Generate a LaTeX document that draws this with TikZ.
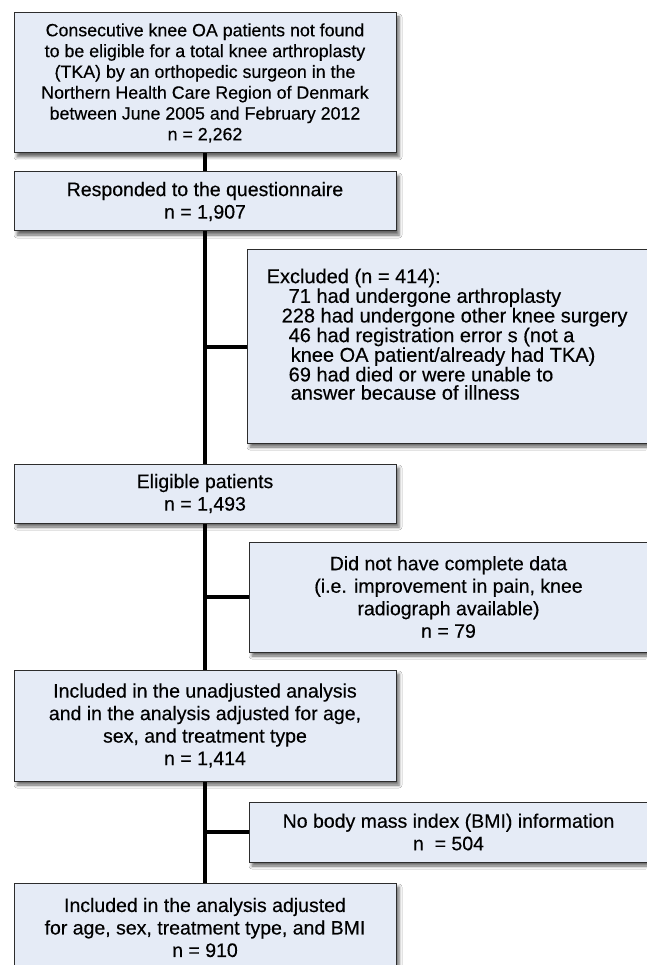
\documentclass[tikz,border=0pt]{standalone}
\usepackage{fontspec}
\setmainfont{Liberation Sans}[FakeBold=0.35]
\usetikzlibrary{shadows.blur}
\definecolor{boxblue}{RGB}{229,235,246}
\definecolor{boxline}{RGB}{45,45,45}

\begin{document}
\begin{tikzpicture}[x=1pt, y=-1pt,
    box/.style={draw=boxline, line width=1pt, fill=boxblue, align=center, inner sep=0pt,
      blur shadow={shadow xshift=3pt, shadow yshift=-4pt, shadow blur radius=3pt, shadow opacity=60},
      font=\fontsize{19.5}{22.5}\selectfont},
    trunk/.style={line width=4pt}]
  \useasboundingbox[fill=white] (0,0) rectangle (646,965);

  \node[box, minimum width=382pt, minimum height=140pt, font=\fontsize{17.8}{20.8}\selectfont] (total) at (205,83)
    {Consecutive knee OA patients not found\\ to be eligible for a total knee arthroplasty\\ (TKA) by an orthopedic surgeon in the\\ Northern Health Care Region of Denmark\\ between June 2005 and February 2012\\ n = 2,262};
  \node[box, minimum width=382pt, minimum height=59pt] (resp) at (205,201.5) {Responded to the questionnaire\\ n = 1,907};
  \node[box, minimum width=401pt, minimum height=193pt] (excl) at (447.5,346.5) {};
  \node[anchor=north west, inner sep=0pt, align=left, font=\fontsize{20}{18.3}\selectfont] (excltext)
    at ([xshift=20pt,yshift=-19pt]excl.north west)
    {Excluded (n = 414):\\
     \hspace*{22pt}71 had undergone arthroplasty\\
     \hspace*{15pt}228 had undergone other knee surgery\\
     \hspace*{22pt}46 had registration error s (not a\\
     \hspace*{24pt}knee OA patient/already had TKA)\\
     \hspace*{22pt}69 had died or were unable to\\
     \hspace*{24pt}answer because of illness};
  \node[box, minimum width=382pt, minimum height=59pt] (elig) at (205,493.5) {Eligible patients\\ n = 1,493};
  \node[box, minimum width=399pt, minimum height=110pt] (miss) at (448.5,597)
    {Did not have complete data\\ (i.e. improvement in pain, knee\\ radiograph available)\\ n = 79};
  \node[box, minimum width=382pt, minimum height=111pt] (incl) at (205,725.5)
    {Included in the unadjusted analysis\\ and in the analysis adjusted for age,\\ sex, and treatment type\\ n = 1,414};
  \node[box, minimum width=399pt, minimum height=60pt] (nobmi) at (448.5,832)
    {No body mass index (BMI) information\\ n\ \ = 504};
  \node[box, minimum width=382pt, minimum height=89pt] (final) at (205,927.5)
    {Included in the analysis adjusted\\ for age, sex, treatment type, and BMI\\ n = 910};

  \draw[trunk] (total) -- (resp);
  \draw[trunk] (resp) -- (elig);
  \draw[trunk] (elig) -- (incl);
  \draw[trunk] (incl) -- (final);
  \draw[trunk] (resp.south |- excl.west) -- (excl.west);
  \draw[trunk] (elig.south |- miss.west) -- (miss.west);
  \draw[trunk] (incl.south |- nobmi.west) -- (nobmi.west);
\end{tikzpicture}
\end{document}
